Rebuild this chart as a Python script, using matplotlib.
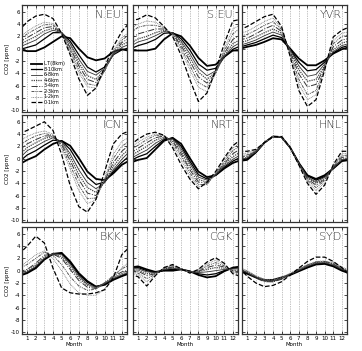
import numpy as np
import matplotlib
matplotlib.use('Agg')
import matplotlib.pyplot as plt

months = np.arange(1, 13)
month_labels = [str(m) for m in months]
yticks = [6, 4, 2, 0, -2, -4, -6, -8, -10]

layers = ['L.T(8km)', '8-10km', '6-8km', '4-6km', '3-4km', '2-3km', '1-2km', '0-1km']

# monthly mean CO2 anomaly per site, one row per layer (top layer first)
n_eu = [[-0.4, -0.4, 0.2, 1.1, 2.0, 1.7, 0.0, -1.4, -1.9, -1.6, -0.5, -0.1],
        [0.2, 0.6, 1.6, 2.6, 2.6, 1.2, -1.0, -3.0, -3.8, -3.0, -1.0, -0.2],
        [0.8, 1.4, 2.4, 3.0, 2.6, 0.8, -1.7, -3.7, -4.3, -3.2, -1.0, 0.2],
        [1.3, 2.0, 2.9, 3.3, 2.6, 0.4, -2.3, -4.4, -5.0, -3.4, -0.9, 0.6],
        [1.8, 2.6, 3.4, 3.6, 2.6, 0.1, -2.8, -5.0, -5.5, -3.6, -0.8, 1.0],
        [2.4, 3.2, 3.9, 3.9, 2.5, -0.3, -3.4, -5.7, -6.0, -3.6, -0.6, 1.4],
        [2.8, 3.7, 4.3, 4.1, 2.5, -0.6, -3.9, -6.2, -6.4, -3.5, -0.3, 1.8],
        [4.4, 5.3, 5.6, 4.9, 2.5, -1.0, -4.9, -7.6, -6.4, -3.0, 0.3, 2.8]]

s_eu = [[-0.3, -0.3, 0.0, 1.5, 2.5, 2.0, 0.5, -1.5, -2.8, -2.6, -1.3, -0.3],
        [0.5, 0.9, 1.5, 2.5, 2.6, 1.6, -0.2, -2.5, -3.5, -3.2, -1.4, -0.1],
        [1.1, 1.5, 2.1, 2.8, 2.6, 1.2, -0.8, -3.2, -4.4, -3.6, -1.3, 0.3],
        [1.6, 2.0, 2.6, 3.0, 2.5, 0.9, -1.4, -3.8, -5.0, -3.8, -1.1, 0.8],
        [2.4, 2.8, 3.2, 3.2, 2.4, 0.5, -2.0, -4.6, -5.6, -4.0, -0.8, 1.5],
        [3.5, 3.8, 3.8, 3.4, 2.3, 0.1, -2.7, -5.5, -6.3, -4.0, -0.4, 2.4],
        [4.0, 4.5, 4.3, 3.5, 2.2, -0.3, -3.4, -6.3, -7.0, -4.0, 0.0, 3.2],
        [4.8, 5.5, 5.0, 3.6, 2.0, -1.1, -5.0, -8.6, -7.2, -3.5, 0.8, 4.5]]

yvr = [[0.3, 0.6, 1.1, 1.7, 1.5, 0.0, -1.6, -2.7, -2.7, -1.9, -0.8, -0.1],
       [0.6, 1.0, 1.6, 2.2, 1.8, -0.1, -2.2, -3.6, -3.4, -2.2, -0.7, 0.2],
       [0.9, 1.4, 2.1, 2.7, 2.2, -0.2, -2.8, -4.5, -4.2, -2.5, -0.5, 0.5],
       [1.3, 1.9, 2.6, 3.2, 2.5, -0.3, -3.4, -5.3, -5.0, -2.8, -0.2, 0.9],
       [1.7, 2.4, 3.2, 3.8, 2.8, -0.5, -4.1, -6.2, -5.8, -3.0, 0.3, 1.4],
       [2.3, 3.0, 3.8, 4.4, 3.1, -0.8, -5.0, -7.5, -6.8, -3.2, 0.8, 2.0],
       [2.8, 3.6, 4.4, 5.0, 3.3, -1.0, -5.8, -8.3, -7.5, -3.3, 1.3, 2.5],
       [3.6, 4.4, 5.2, 5.6, 3.6, -1.3, -6.8, -9.4, -8.3, -3.5, 1.9, 3.0]]

icn = [[-0.2, 0.4, 1.5, 2.4, 2.9, 2.1, 0.1, -2.1, -3.3, -3.5, -2.4, -1.0],
       [0.6, 1.3, 2.2, 3.0, 2.9, 1.5, -0.8, -3.0, -4.2, -3.8, -2.1, -0.6],
       [1.3, 2.0, 2.8, 3.4, 2.8, 0.8, -1.8, -3.9, -4.9, -3.9, -1.8, -0.1],
       [1.8, 2.6, 3.3, 3.6, 2.6, 0.3, -2.6, -4.7, -5.5, -3.8, -1.3, 0.5],
       [2.4, 3.1, 3.7, 3.7, 2.3, -0.3, -3.4, -5.6, -6.0, -3.6, -0.7, 1.2],
       [3.0, 3.7, 4.1, 3.8, 2.0, -1.0, -4.3, -6.5, -6.4, -3.4, 0.0, 2.0],
       [3.6, 4.2, 4.5, 4.0, 1.7, -1.7, -5.2, -7.3, -6.7, -3.2, 0.7, 2.8],
       [4.6, 5.3, 6.0, 4.6, 0.7, -4.4, -7.8, -8.7, -6.6, -2.1, 2.4, 4.0]]

nrt = [[-0.2, 0.1, 1.5, 2.9, 3.4, 2.4, 0.1, -2.1, -3.0, -2.7, -1.6, -0.7],
       [0.3, 0.8, 2.0, 3.1, 3.3, 2.0, -0.4, -2.6, -3.3, -2.7, -1.4, -0.4],
       [0.7, 1.4, 2.5, 3.3, 3.2, 1.6, -0.8, -3.0, -3.5, -2.6, -1.2, -0.1],
       [1.2, 2.0, 3.0, 3.5, 3.0, 1.2, -1.3, -3.4, -3.8, -2.6, -1.0, 0.3],
       [1.7, 2.6, 3.4, 3.7, 2.8, 0.8, -1.8, -3.8, -4.0, -2.5, -0.8, 0.8],
       [2.2, 3.1, 3.8, 3.8, 2.5, 0.4, -2.3, -4.2, -4.2, -2.4, -0.5, 1.3],
       [2.7, 3.5, 4.0, 3.8, 2.2, -0.2, -2.8, -4.6, -4.2, -2.3, -0.2, 1.7],
       [3.2, 4.0, 4.3, 3.8, 1.8, -1.0, -3.3, -4.9, -3.8, -2.1, 0.1, 2.1]]

hnl = [[-0.2, 1.0, 2.6, 3.6, 3.5, 1.8, -0.7, -2.7, -3.3, -2.7, -1.6, -0.4],
       [0.0, 1.0, 2.6, 3.6, 3.5, 1.8, -0.7, -2.8, -3.5, -2.9, -1.6, -0.3],
       [0.1, 1.1, 2.6, 3.6, 3.5, 1.8, -0.8, -3.0, -3.8, -3.0, -1.5, -0.2],
       [0.2, 1.1, 2.6, 3.6, 3.5, 1.8, -0.8, -3.1, -4.0, -3.2, -1.5, -0.1],
       [0.4, 1.2, 2.6, 3.6, 3.5, 1.8, -0.8, -3.3, -4.3, -3.4, -1.4, 0.2],
       [0.6, 1.3, 2.6, 3.6, 3.6, 1.8, -0.9, -3.5, -4.7, -3.6, -1.3, 0.5],
       [0.9, 1.4, 2.6, 3.6, 3.6, 1.8, -0.9, -3.7, -5.2, -3.9, -1.2, 0.8],
       [1.2, 1.5, 2.6, 3.6, 3.6, 1.8, -1.0, -4.0, -5.8, -4.3, -1.0, 1.2]]

bkk = [[-0.4, 0.4, 1.8, 2.7, 2.9, 1.5, -0.4, -1.7, -2.6, -2.3, -1.5, -0.9],
       [-0.3, 0.5, 1.9, 2.8, 2.8, 1.3, -0.6, -1.9, -2.6, -2.2, -1.4, -0.8],
       [-0.2, 0.7, 2.0, 2.8, 2.6, 1.0, -0.9, -2.2, -2.7, -2.1, -1.3, -0.7],
       [0.0, 0.9, 2.2, 2.7, 2.3, 0.6, -1.2, -2.4, -2.8, -2.0, -1.2, -0.5],
       [0.2, 1.2, 2.5, 2.7, 2.0, 0.2, -1.6, -2.7, -2.9, -2.0, -1.0, -0.2],
       [1.0, 2.0, 3.0, 2.5, 1.0, -1.0, -2.5, -3.2, -3.0, -2.0, -0.8, 0.3],
       [1.5, 2.6, 3.2, 2.0, 0.0, -2.2, -3.6, -4.0, -4.0, -3.0, -1.2, 0.5],
       [4.0, 5.6, 4.5, 0.4, -2.8, -3.6, -3.8, -3.8, -3.6, -3.1, -1.2, 2.6]]

cgk = [[0.7, 0.2, -0.2, 0.0, 0.0, 0.2, -0.1, -0.7, -1.1, -0.9, -0.1, 0.5],
       [0.5, 0.0, -0.3, 0.1, 0.2, 0.2, -0.1, -0.5, -0.7, -0.5, 0.0, 0.4],
       [0.3, -0.2, -0.3, 0.2, 0.4, 0.2, -0.2, -0.3, -0.2, 0.0, 0.2, 0.3],
       [0.1, -0.5, -0.4, 0.3, 0.5, 0.2, -0.2, -0.2, 0.2, 0.5, 0.4, 0.1],
       [-0.1, -0.8, -0.5, 0.3, 0.6, 0.3, -0.2, -0.1, 0.5, 0.9, 0.6, 0.0],
       [-0.4, -1.3, -0.6, 0.4, 0.8, 0.3, -0.3, 0.0, 0.8, 1.3, 0.8, -0.2],
       [-0.7, -1.8, -0.7, 0.4, 0.9, 0.3, -0.3, 0.1, 1.1, 1.7, 1.0, -0.3],
       [-1.0, -2.5, -0.8, 0.5, 1.0, 0.3, -0.4, 0.2, 1.4, 2.1, 1.2, -0.5]]

syd = [[-0.5, -1.1, -1.5, -1.5, -1.1, -0.7, -0.1, 0.5, 1.0, 1.1, 0.7, 0.0],
       [-0.4, -1.1, -1.6, -1.6, -1.2, -0.6, 0.0, 0.6, 1.1, 1.2, 0.8, 0.1],
       [-0.3, -1.0, -1.6, -1.7, -1.3, -0.6, 0.1, 0.7, 1.2, 1.3, 0.9, 0.2],
       [-0.2, -1.0, -1.7, -1.8, -1.3, -0.6, 0.1, 0.8, 1.3, 1.4, 1.0, 0.3],
       [-0.3, -1.2, -1.8, -1.8, -1.4, -0.6, 0.2, 0.9, 1.4, 1.5, 1.1, 0.3],
       [-0.1, -0.9, -1.5, -1.6, -1.2, -0.5, 0.2, 0.9, 1.4, 1.5, 1.2, 0.5],
       [0.0, -0.8, -1.4, -1.5, -1.1, -0.4, 0.3, 1.0, 1.5, 1.6, 1.3, 0.6],
       [-0.9, -2.0, -2.6, -2.4, -1.8, -0.7, 0.4, 1.5, 2.2, 2.2, 1.5, 0.5]]

sites = ['N.EU', 'S.EU', 'YVR', 'ICN', 'NRT', 'HNL', 'BKK', 'CGK', 'SYD']
site_data = [n_eu, s_eu, yvr, icn, nrt, hnl, bkk, cgk, syd]

# line look for each layer
styles = [dict(ls='-', lw=1.3, color='black'),
          dict(ls='-', lw=0.9, color='black'),
          dict(ls='-', lw=0.6, color='#333333'),
          dict(ls=(0, (1, 0.8)), lw=0.9, color='#444444'),
          dict(ls='-.', lw=0.7, color='#333333'),
          dict(ls=(0, (3, 1, 1, 1, 1, 1)), lw=0.7, color='#555555'),
          dict(ls=(0, (1, 1)), lw=0.6, color='#777777'),
          dict(ls='--', lw=0.9, color='black')]

plt.rcParams['font.family'] = 'DejaVu Sans'
fig = plt.figure(figsize=(3.62, 3.51), dpi=100)
W, H = 362.0, 351.0
col_x = [22, 133, 242]
row_top = [5, 115, 227]
pw, ph = 105, 107

# wrap the year so lines run to the frame edges
xw = np.r_[0, months, 13]

for i, (name, data) in enumerate(zip(sites, site_data)):
    r, c = divmod(i, 3)
    ax = fig.add_axes([col_x[c] / W, 1 - (row_top[r] + ph) / H, pw / W, ph / H])
    for m in months:
        ax.axvline(m, color='#888888', lw=0.5, ls=(0, (1, 1.5)), zorder=0)
    for k, vals in enumerate(data):
        yw = np.r_[vals[-1], vals, vals[0]]
        ax.plot(xw, yw, label=layers[k], **styles[k])
    ax.set_xlim(0.4, 12.6)
    ax.set_ylim(-10.3, 7.1)
    ax.set_xticks(months)
    ax.set_yticks(yticks)
    ax.tick_params(direction='in', length=2, width=0.5, labelsize=4, pad=1.5,
                   top=True, right=True)
    for sp in ax.spines.values():
        sp.set_linewidth(0.9)
        sp.set_color('#333333')
    if r == 2:
        ax.set_xticklabels(month_labels)
        ax.set_xlabel('Month', fontsize=4, labelpad=1)
    else:
        ax.set_xticklabels([])
    if c == 0:
        ax.set_yticklabels([str(t) for t in yticks])
        ax.set_ylabel('CO2 [ppm]', fontsize=4, labelpad=1)
    else:
        ax.set_yticklabels([])
    ax.text(0.95, 0.95, name, transform=ax.transAxes, ha='right', va='top',
            fontsize=8, fontweight='light', color='#333333')
    if i == 0:
        ax.legend(loc='lower left', bbox_to_anchor=(0.06, 0.04), fontsize=3.5,
                  frameon=False, handlelength=2.2, labelspacing=0.1,
                  handletextpad=0.3, borderpad=0.1)

fig.savefig('out.png', dpi=100)
